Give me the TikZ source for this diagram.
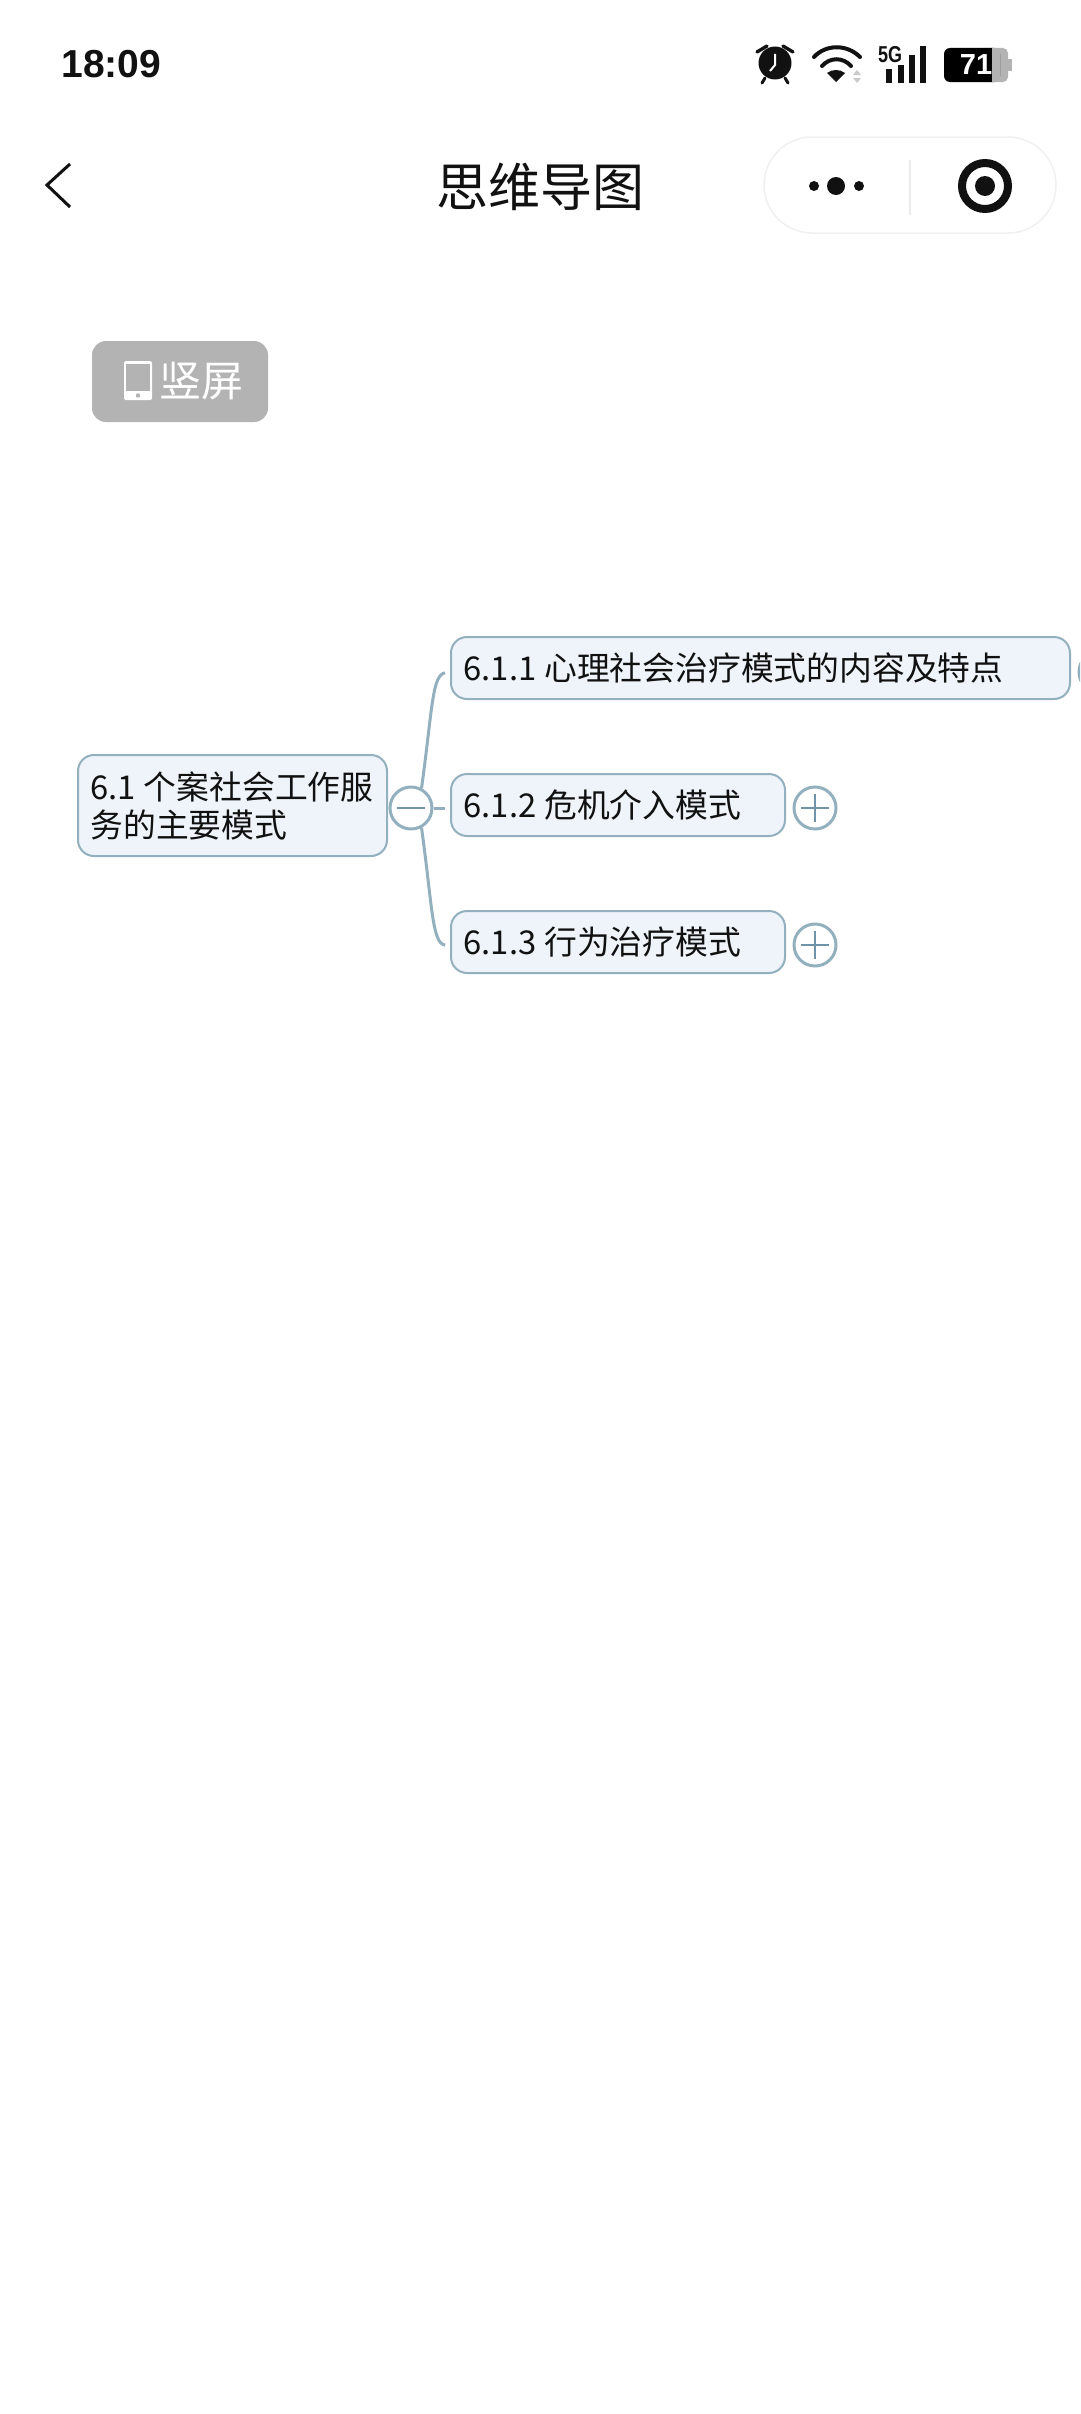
\documentclass[tikz,border=0pt]{standalone}
\usepackage{fontspec}
\setmainfont{Noto Sans CJK SC}
\newfontfamily\uifont{Liberation Sans}
\usepackage{xcolor}
\usetikzlibrary{positioning,calc}
\definecolor{edge}{HTML}{93B0BE}
\definecolor{cross}{HTML}{6F94A9}
\definecolor{paper}{HTML}{EEF4FA}
\definecolor{badge}{HTML}{B3B3B3}
\definecolor{ink}{HTML}{111111}
\newcommand{\numgap}{\hspace{.24em}}

\begin{document}
\begin{tikzpicture}[
        x=1pt, y=1pt,
        topic/.style={draw=edge, fill=paper, rounded corners=16pt, line width=2pt, anchor=west,
                      align=left, inner xsep=12.5pt, inner ysep=0pt, minimum height=62pt,
                      font=\fontsize{32.8}{38}\selectfont, text=ink},
        fold/.style={circle, draw=edge, fill=white, line width=3pt, minimum size=42pt, inner sep=0pt},
        mark line/.style={draw=cross, line width=1.6pt},
        branch/.style={draw=edge, line width=3pt},
        icon/.style={draw=ink, line width=3.6pt, line cap=round},
      ]
        \clip (0,0) rectangle (1080,-2414);
        \fill[white] (0,0) rectangle (1080,-2414);

        \node[font=\uifont\fontsize{39}{39}\selectfont\bfseries, text=ink] (clock) at (111.5,-64) {18:09};
        \fill[ink] (775,-63) circle (16.5);
        \draw[icon, line width=3.4pt] (757,-52) -- (767,-46) (783,-46) -- (793,-52);
        \draw[icon, line width=3pt] (765,-78) -- (762,-83) (785,-78) -- (788,-83);
        \draw[white, line width=2pt] (775,-54) -- (775,-65) -- (770,-71);
        \draw[icon, line width=4pt] (814,-57) .. controls (826,-44) and (847,-44) .. (860,-57);
        \draw[icon, line width=4pt] (822,-66) .. controls (830,-57) and (843,-57) .. (851,-66);
        \fill[ink] (836,-82) -- (827,-73) .. controls (832,-69) and (840,-69) .. (845,-73) -- cycle;
        \fill[badge!70] (857,-70) -- (853,-75) -- (861,-75) -- cycle (857,-83) -- (853,-78) -- (861,-78) -- cycle;
        \node[font=\uifont\fontsize{23}{23}\selectfont\bfseries, text=ink, xscale=.78] (net) at (890,-54.5) {5G};
        \foreach \barx/\bartop in {889/69, 901/65, 912/55, 923/46}
          \draw[ink, line width=5.4pt] (\barx,-\bartop) -- (\barx,-83);
        \fill[badge, rounded corners=5pt] (980,-48) rectangle (1008,-82);
        \fill[badge] (1008,-59) rectangle (1012,-71);
        \fill[black, rounded corners=6pt] (944,-48) rectangle (1000,-82);
        \fill[badge] (992,-48) rectangle (1000,-82);
        \node[font=\uifont\fontsize{29}{29}\selectfont\bfseries, text=white] (level) at (976,-65) {71};

        \draw[ink, line width=3pt] (70,-164) -- (47,-185) -- (70,-207);
        \node[font=\fontsize{52}{52}\selectfont, text=ink] (title) at (540,-187) {思维导图};
        \draw[black!6, line width=1.5pt, rounded corners=48pt] (764,-137) rectangle (1056,-233);
        \draw[black!8, line width=1.5pt] (910,-160) -- (910,-215);
        \fill[ink] (814,-186) circle (5) (836,-186) circle (9) (859,-186) circle (5);
        \draw[ink, line width=8pt] (985,-186) circle (23);
        \fill[ink] (985,-186) circle (10);

        \fill[badge, rounded corners=14pt] (92,-341) rectangle (268,-422);
        \fill[white, rounded corners=1.5pt] (124,-361) rectangle (152,-400);
        \fill[badge] (126,-363.5) rectangle (150,-391);
        \fill[badge] (138,-395.5) circle (2.2);
        \node[font=\fontsize{42}{42}\selectfont, text=white] (turn) at (201.5,-381) {竖屏};

        \node[topic, text width=284pt, minimum height=101pt] (root) at (77,-805.5) {6.1\numgap 个案社会工作服\\务的主要模式};
        \node[topic, text width=594pt] (sub1) at (450,-668) {6.1.1\numgap 心理社会治疗模式的内容及特点};
        \node[topic, text width=309pt] (sub2) at (450,-805) {6.1.2\numgap 危机介入模式};
        \node[topic, text width=309pt] (sub3) at (450,-942) {6.1.3\numgap 行为治疗模式};

        \node[fold] (minus) at (411,-808) {};
        \node[fold] (plus1) at (1100,-672) {};
        \node[fold] (plus2) at (815,-808) {};
        \node[fold] (plus3) at (815,-945) {};

        \draw[mark line] ([xshift=-14pt]minus.center) -- ([xshift=14pt]minus.center);
        \foreach \pl in {plus1,plus2,plus3} {
          \draw[mark line] ([xshift=-14pt]\pl.center) -- ([xshift=14pt]\pl.center);
          \draw[mark line] ([yshift=-14pt]\pl.center) -- ([yshift=14pt]\pl.center);
        }

        \draw[branch, shorten >=5pt] (minus.62) .. controls +(11,80) and +(-18,-3) .. ([yshift=-4pt]sub1.west);
        \draw[branch, shorten >=5pt] (minus.east) -- (minus.east -| sub2.west);
        \draw[branch, shorten >=5pt] (minus.-62) .. controls +(11,-80) and +(-18,3) .. ([yshift=-4pt]sub3.west);
      \end{tikzpicture}
\end{document}
